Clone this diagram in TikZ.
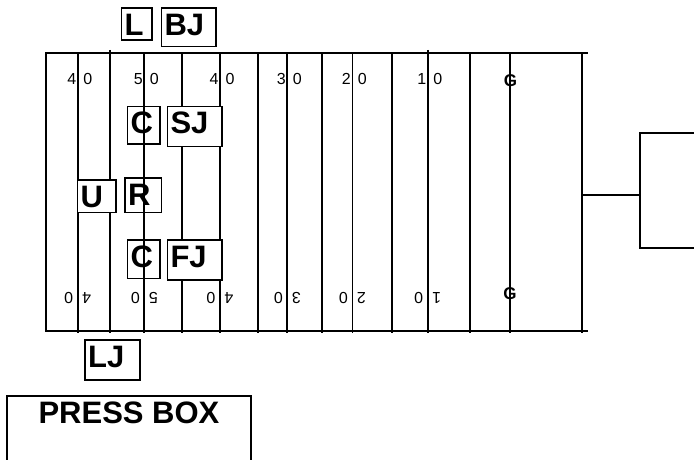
\documentclass[tikz,border=0pt]{standalone}
\usepackage{fontspec}
\setmainfont{Liberation Sans}
\usetikzlibrary{positioning}

\begin{document}
\begin{tikzpicture}[x=1pt,y=-1pt,
  yardline/.style={line width=1.7pt},
  yardnum/.style={font=\fontsize{16}{16}\selectfont,inner sep=0pt},
  goalmark/.style={font=\fontsize{17}{17}\selectfont\bfseries,inner sep=0pt},
  crewbox/.style={draw,line width=1.7pt,fill=white,anchor=north west,align=left,inner xsep=3pt,inner ysep=4pt,text height=23pt,font=\fontsize{31}{31}\selectfont\bfseries}
]
\useasboundingbox (0,0) rectangle (694,460);

% field outline and yard lines
\draw[yardline] (45,52.7) -- (588,52.7);
\draw[yardline] (45,331) -- (588,331);
\draw[yardline] (46,52.7) -- (46,331);
\foreach \x in {77.7,182.3,220,258.3,287.3,321.7,391.7,470,510,582}
  \draw[yardline] (\x,52.7) -- (\x,333);
\foreach \x in {110,427.7}
  \draw[yardline] (\x,50) -- (\x,333);
\draw[line width=1pt] (352.3,52.7) -- (352.3,333);

% yard numbers
\foreach \x/\d [count=\i] in {77.7/4,144.3/5,220/4,287.3/3,352.3/2,427.7/1}{
  \node[yardnum] (numtl\i) at (\x-6,79) {\d};
  \node[yardnum] (numtr\i) at (\x+10,79) {0};
  \node[yardnum,rotate=180] (numbl\i) at (\x-9,298) {0};
  \node[yardnum,rotate=180] (numbr\i) at (\x+9,298) {\d};
}
\node[goalmark] (goaltop) at (510.5,80.8) {G};
\node[goalmark] (goalbot) at (510,293.7) {G};

% officials
\node[crewbox,text width=24.3pt,text depth=1pt] (ref) at (120.7,7.3) {L};
\node[crewbox,text width=48.3pt,text depth=7.4pt] (backjudge) at (160.7,7.3) {BJ};
\node[crewbox,text width=26.6pt,text depth=6.6pt] (chaintop) at (126.7,105.7) {C};
\node[crewbox,text width=48.3pt,text depth=9pt] (sidejudge) at (166.7,105.7) {SJ};
\node[crewbox,text width=32.3pt,text depth=1.4pt] (umpire) at (76.7,179.3) {U};
\node[crewbox,text width=30.4pt,text depth=3.4pt] (referee) at (124.3,177.3) {R};
\node[crewbox,text width=26.3pt,text depth=7.4pt] (chainbot) at (126.7,239.3) {C};
\node[crewbox,text width=48.3pt,text depth=9pt] (fieldjudge) at (166.7,239.3) {FJ};
\node[crewbox,text width=48.7pt,text depth=9pt] (linejudge) at (84.3,339.3) {LJ};

% midfield line over the boxes
\draw[yardline] (144.3,52.7) -- (144.3,333);

% goal post
\coordinate (goalpost) at (582,195);
\draw[yardline] (goalpost) -- (640,195);
\draw[yardline] (694,132.7) -| (640,248.3) -- (694,248.3);

% press box
\draw[yardline] (6.7,461) |- (251,396) -- (251,461);
\node[font=\fontsize{31}{31}\selectfont\bfseries,anchor=base,inner sep=0pt] (pressbox) at (129,423.3) {PRESS BOX};
\end{tikzpicture}
\end{document}
